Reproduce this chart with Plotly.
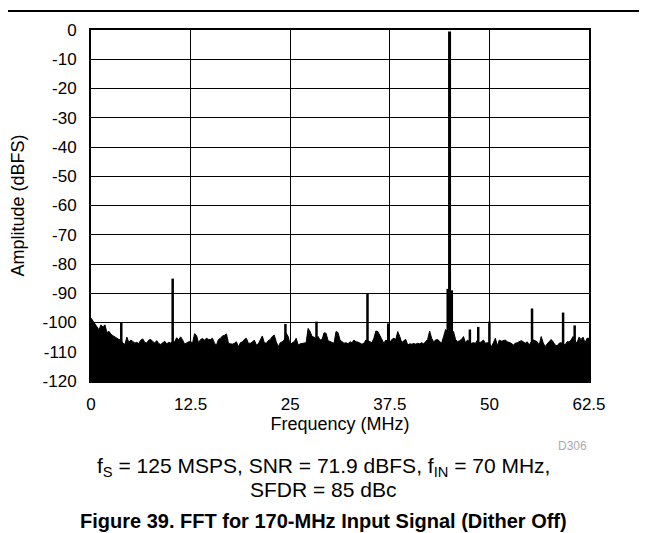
import plotly.graph_objects as go

# noise floor envelope, one value every 0.25 MHz from 0 to 62.5 MHz (dBFS)
floor_freq = [i * 0.25 for i in range(251)]
floor_db = [
    -98.5, -99.5, -100.5, -101.5, -102.5, -100.8, -101.5, -100.8, -103.5, -103.0,   # 0 - 2.25
    -104.0, -104.5, -105.0, -105.5, -105.8, -106.0, -107.0, -107.5, -105.0, -106.8,  # 2.5 - 4.75
    -106.0, -106.5, -107.0, -106.8, -107.2, -106.0, -105.6, -106.8, -107.0, -106.0,  # 5 - 7.25
    -105.8, -106.5, -107.0, -106.2, -107.2, -107.5, -107.0, -106.4, -107.3, -106.8,  # 7.5 - 9.75
    -107.0, -106.5, -106.6, -105.2, -106.0, -104.9, -106.0, -107.4, -107.0, -106.6,  # 10 - 12.25
    -106.5, -107.0, -103.8, -104.5, -107.0, -105.8, -105.5, -106.0, -105.4, -105.8,  # 12.5 - 14.75
    -105.8, -105.4, -107.1, -107.7, -105.8, -105.4, -104.6, -104.4, -103.9, -107.1,  # 15 - 17.25
    -107.3, -107.4, -107.1, -106.6, -108.3, -106.9, -106.6, -105.8, -105.4, -107.1,  # 17.5 - 19.75
    -107.1, -106.7, -106.0, -107.7, -107.3, -106.0, -104.6, -106.9, -107.1, -106.2,  # 20 - 22.25
    -105.8, -104.8, -104.3, -106.6, -108.3, -106.9, -106.6, -106.0, -103.7, -104.8,  # 22.5 - 24.75
    -107.7, -106.9, -106.6, -105.4, -107.7, -107.3, -107.1, -107.1, -106.9, -102.0,  # 25 - 27.25
    -103.1, -104.8, -105.0, -105.5, -104.8, -106.0, -105.8, -103.5, -103.7, -106.2,  # 27.5 - 29.75
    -106.6, -106.9, -107.1, -103.1, -103.4, -106.0, -106.6, -107.1, -106.9, -107.3,  # 30 - 32.25
    -106.6, -106.9, -106.0, -106.6, -106.7, -107.1, -107.4, -107.1, -106.0, -106.2,  # 32.5 - 34.75
    -106.6, -106.9, -105.4, -102.9, -103.1, -104.6, -106.0, -107.1, -106.0, -106.6,  # 35 - 37.25
    -106.9, -105.8, -105.4, -105.8, -103.1, -104.8, -106.9, -106.2, -105.8, -107.7,  # 37.5 - 39.75
    -107.3, -107.4, -107.2, -107.4, -107.1, -107.3, -106.9, -107.3, -106.6, -105.8,  # 40 - 42.25
    -102.9, -105.4, -106.6, -106.0, -105.8, -106.6, -107.1, -104.8, -102.4, -103.0,  # 42.5 - 44.75
    -102.0, -103.0, -103.1, -105.8, -106.6, -106.2, -105.8, -104.8, -106.9, -106.0,  # 45 - 47.25
    -106.5, -107.1, -106.9, -107.1, -106.0, -106.9, -106.6, -106.0, -107.1, -106.9,  # 47.5 - 49.75
    -107.1, -108.3, -106.9, -105.4, -108.0, -106.0, -106.4, -106.2, -106.0, -106.6,  # 50 - 52.25
    -106.9, -107.1, -107.7, -107.1, -106.9, -106.6, -106.2, -106.6, -107.1, -106.6,  # 52.5 - 54.75
    -107.7, -106.6, -106.0, -106.2, -106.6, -107.7, -104.8, -106.9, -108.3, -107.3,  # 55 - 57.25
    -106.6, -105.8, -106.6, -107.7, -108.0, -107.1, -106.9, -107.2, -107.7, -106.6,  # 57.5 - 59.75
    -106.6, -106.0, -104.8, -106.5, -106.9, -105.0, -105.8, -105.0, -106.9, -105.4,  # 60 - 62.25
    -105.4,                                                                          # 62.5
]

# harmonics / spurs
spur_freq = [3.8, 10.25, 24.4, 28.3, 34.7, 37.3, 47.55, 48.6, 50.0, 55.35, 59.25, 60.7]
spur_db = [-100.0, -85.0, -100.5, -99.7, -90.0, -100.3, -102.4, -101.5, -99.7, -95.2, -96.6, -101.0]

# fundamental (170 MHz aliased to 45 MHz) and its close-in skirt
tone_freq = [45.0]
tone_db = [-0.5]
skirt_freq = [44.8, 45.25]
skirt_db = [-88.5, -89.0]

x_ticks = [0, 12.5, 25, 37.5, 50, 62.5]
x_ticklabels = ["0", "12.5", "25", "37.5", "50", "62.5"]
y_ticks = [0, -10, -20, -30, -40, -50, -60, -70, -80, -90, -100, -110, -120]
y_ticklabels = ["0", "-10", "-20", "-30", "-40", "-50", "-60", "-70", "-80", "-90",
                "-100", "-110", "-120"]


def stems(freqs, levels, base=-120):
    xs, ys = [], []
    for f, v in zip(freqs, levels):
        xs += [f, f, None]
        ys += [base, v, None]
    return xs, ys


FONT = "Arial, Liberation Sans, sans-serif"

fig = go.Figure()

# baseline for the filled noise floor
fig.add_trace(go.Scatter(x=[floor_freq[0], floor_freq[-1]], y=[-120, -120],
                         mode="lines", line=dict(color="black", width=0),
                         showlegend=False, hoverinfo="skip"))
fig.add_trace(go.Scatter(x=floor_freq, y=floor_db, mode="lines",
                         line=dict(color="black", width=1),
                         fill="tonexty", fillcolor="black", showlegend=False))

sx, sy = stems(spur_freq, spur_db)
fig.add_trace(go.Scatter(x=sx, y=sy, mode="lines", line=dict(color="black", width=2.5),
                         showlegend=False))
kx, ky = stems(skirt_freq, skirt_db)
fig.add_trace(go.Scatter(x=kx, y=ky, mode="lines", line=dict(color="black", width=3),
                         showlegend=False))
tx, ty = stems(tone_freq, tone_db)
fig.add_trace(go.Scatter(x=tx, y=ty, mode="lines", line=dict(color="black", width=3),
                         showlegend=False))

fig.update_xaxes(range=[0, 62.5], tickvals=x_ticks, ticktext=x_ticklabels,
                 showgrid=True, gridcolor="black", gridwidth=1,
                 showline=True, linecolor="black", linewidth=2, mirror=True,
                 ticks="", ticklabelstandoff=7, zeroline=False, automargin=False,
                 tickfont=dict(family=FONT, size=17, color="black"),
                 title=dict(text="Frequency (MHz)", standoff=2,
                            font=dict(family=FONT, size=18, color="black")))
fig.update_yaxes(range=[-120, 0], tickvals=y_ticks, ticktext=y_ticklabels,
                 showgrid=True, gridcolor="black", gridwidth=1,
                 showline=True, linecolor="black", linewidth=2, mirror=True,
                 ticks="", ticklabelstandoff=9, zeroline=False, automargin=False,
                 tickfont=dict(family=FONT, size=17, color="black"),
                 title=dict(text="Amplitude (dBFS)", standoff=16,
                            font=dict(family=FONT, size=18, color="black")))

# page is drawn with an 8 px body margin, so the figure is offset by 8 px
PLOT_TOP = 30
PLOT_BOTTOM = 381
ph = float(PLOT_BOTTOM - PLOT_TOP)
pw = 498.5


def py(px):
    # page pixel row -> paper y
    return (PLOT_BOTTOM - px) / ph


def pxx(px):
    return (px - 90.5) / pw


annotations = [
    dict(text="D306", x=1.0, y=py(446), xanchor="right", yanchor="middle",
         font=dict(family=FONT, size=12, color="#aaaaaa")),
    dict(text="f<sub>S</sub> = 125 MSPS, SNR = 71.9 dBFS, f<sub>IN</sub> = 70 MHz,",
         x=pxx(323), y=py(467), xanchor="center", yanchor="middle",
         font=dict(family=FONT, size=21, color="black")),
    dict(text="SFDR = 85 dBc", x=pxx(323), y=py(489),
         xanchor="center", yanchor="middle",
         font=dict(family=FONT, size=21, color="black")),
    dict(text="<b>Figure 39. FFT for 170-MHz Input Signal (Dither Off)</b>",
         x=pxx(323), y=py(521), xanchor="center", yanchor="middle",
         font=dict(family=FONT, size=20, color="black")),
]
for a in annotations:
    a.update(xref="paper", yref="paper", showarrow=False)

fig.update_layout(
    width=647, height=533,
    margin=dict(l=82.5, r=66, t=22, b=160),
    paper_bgcolor="white", plot_bgcolor="white",
    annotations=annotations,
    shapes=[dict(type="line", xref="paper", yref="paper",
                 x0=pxx(-10), x1=pxx(660), y0=py(11), y1=py(11),
                 line=dict(color="black", width=2))],
)

fig.write_html("out.html")
